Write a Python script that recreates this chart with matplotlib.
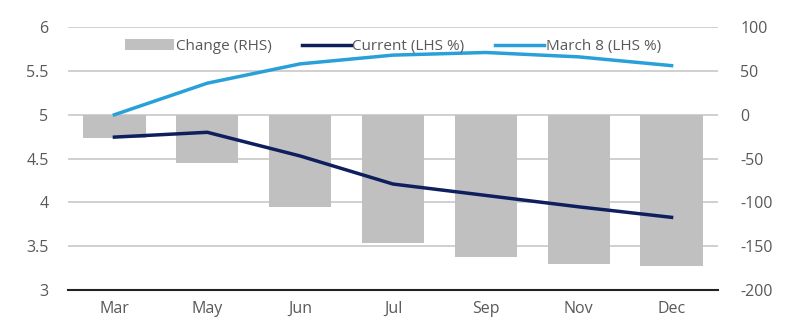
import matplotlib.pyplot as plt
import numpy as np

# Rates path by meeting month
months = ['Mar', 'May', 'Jun', 'Jul', 'Sep', 'Nov', 'Dec']
change_bp = [-26, -55, -105, -146, -162, -170, -172]
current = [4.745, 4.80, 4.53, 4.21, 4.08, 3.95, 3.83]
march8 = [5.00, 5.36, 5.58, 5.68, 5.71, 5.66, 5.56]

plt.rcParams['font.family'] = ['Open Sans', 'DejaVu Sans']
plt.rcParams['axes.unicode_minus'] = False
grey_txt = '#595959'

fig = plt.figure(figsize=(7.96, 3.26), dpi=100)
ax = fig.add_axes([0.0854, 0.110, 0.8166, 0.807])
ax2 = ax.twinx()

x = np.arange(len(months))

# bars on the right axis, lines on the left
ax2.bar(x, change_bp, width=0.67, color='#c0c0c0', label='Change (RHS)', zorder=1)
ax2.set_ylim(-200, 100)
ax2.set_yticks(np.arange(-200, 101, 50))

ax.set_zorder(ax2.get_zorder() + 1)
ax.patch.set_visible(False)
ax.plot(x, current, color='#0f1f5e', lw=2.5, label='Current (LHS %)', zorder=3)
ax.plot(x, march8, color='#2aa0d8', lw=2.5, label='March 8 (LHS %)', zorder=3)
ax.set_ylim(3, 6)
ax.set_yticks([3, 3.5, 4, 4.5, 5, 5.5, 6])
ax.set_yticklabels(['3', '3.5', '4', '4.5', '5', '5.5', '6'])
ax.set_xlim(-0.5, len(months) - 0.5)
ax.set_xticks(x)
ax.set_xticklabels(months)

# gridlines drawn under the bars
for v in [3.5, 4, 4.5, 5, 5.5, 6]:
    ax2.axhline((v - 3) / 3 * 300 - 200, color='#c8c8c8', lw=1.2, zorder=0)

for a in (ax, ax2):
    for s in a.spines.values():
        s.set_visible(False)
    a.tick_params(length=0, labelsize=11.5, colors=grey_txt)
ax.spines['bottom'].set_visible(True)
ax.spines['bottom'].set_color('#222222')
ax.spines['bottom'].set_linewidth(1.5)
ax.tick_params(axis='y', pad=14)
ax.tick_params(axis='x', pad=8)
ax2.tick_params(axis='y', pad=16)

handles = ax2.get_legend_handles_labels()[0] + ax.get_legend_handles_labels()[0]
labels = ['Change (RHS)', 'Current (LHS %)', 'March 8 (LHS %)']
ax.legend(handles, labels, loc='upper center', bbox_to_anchor=(0.5, 0.99), ncol=3,
          frameon=False, fontsize=11, labelcolor=grey_txt, handlelength=3.2,
          handletextpad=0.1, columnspacing=2.0, borderpad=0.1)

fig.savefig('out.png', dpi=100)
